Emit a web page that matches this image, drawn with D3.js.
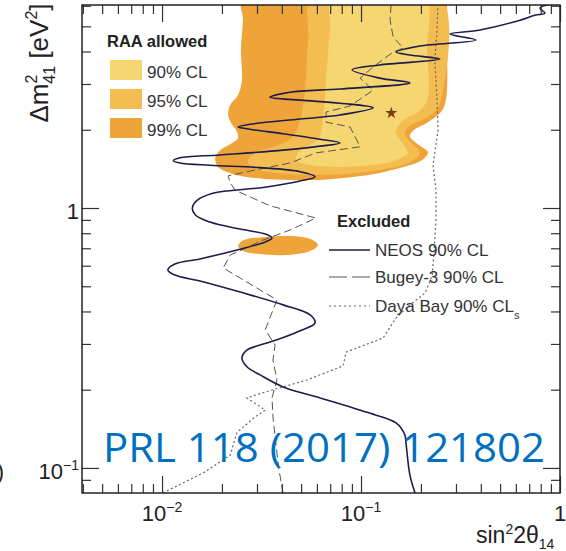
<!DOCTYPE html>
<html>
<head>
<meta charset="utf-8">
<script src="https://cdn.jsdelivr.net/npm/d3@7"></script>
<style>
  body { margin: 0; background: #fff; }
  svg { display: block; font-family: "Liberation Sans", Arial, sans-serif; }
</style>
</head>
<body>
<div id="chart"></div>
<script>
// ---- data: [sin^2 2theta14, dm^2_41 (eV^2)] ----
const raa99Contour = [
  [0.0255, 6.6], [0.255, 6.6], [0.267, 4.84], [0.267, 2.60], [0.252, 2.34], [0.217, 2.14],
  [0.185, 2.00], [0.176, 1.89], [0.193, 1.76], [0.217, 1.64], [0.203, 1.53], [0.170, 1.45],
  [0.132, 1.38], [0.102, 1.33], [0.0698, 1.29], [0.0494, 1.28], [0.0311, 1.30], [0.0227, 1.35],
  [0.0191, 1.44], [0.0185, 1.56], [0.0196, 1.67], [0.0225, 1.78], [0.0241, 1.86], [0.0235, 2.00],
  [0.0225, 2.09], [0.0215, 2.28], [0.0220, 2.49], [0.0241, 2.72], [0.0252, 3.11], [0.0249, 4.05],
  [0.0255, 5.28]
];
const raa95Contour = [
  [0.0575, 6.6], [0.249, 6.6], [0.252, 2.60], [0.238, 2.38], [0.207, 2.20], [0.176, 2.07],
  [0.166, 1.93], [0.182, 1.76], [0.198, 1.63], [0.176, 1.50], [0.124, 1.40], [0.0784, 1.35],
  [0.0440, 1.35], [0.0311, 1.40], [0.0270, 1.50], [0.0293, 1.63], [0.0370, 1.73], [0.0450, 1.86],
  [0.0494, 2.18], [0.0523, 2.84], [0.0542, 4.43]
];
const raa90Contour = [
  [0.0723, 6.6], [0.207, 6.6], [0.215, 4.05], [0.215, 2.60], [0.193, 2.34], [0.161, 2.16],
  [0.150, 1.96], [0.163, 1.76], [0.172, 1.63], [0.148, 1.52], [0.0989, 1.45], [0.0622, 1.45],
  [0.0472, 1.53], [0.0494, 1.67], [0.0608, 1.83], [0.0644, 2.18], [0.0667, 3.11], [0.0698, 4.84]
];
const raa99Island = [
  [0.0241, 0.714], [0.0258, 0.753], [0.0330, 0.773], [0.0440, 0.780], [0.0555, 0.760],
  [0.0608, 0.721], [0.0555, 0.684], [0.0415, 0.659], [0.0311, 0.665], [0.0255, 0.684]
];
const bestFit = [0.142, 2.32];

const neosCurve = [
  [0.187, 0.080], [0.176, 0.094], [0.168, 0.126], [0.166, 0.134], [0.150, 0.149], [0.106, 0.164],
  [0.0622, 0.186], [0.0406, 0.205], [0.0311, 0.228], [0.0267, 0.245], [0.0252, 0.265], [0.0267, 0.284],
  [0.0311, 0.297], [0.0378, 0.311], [0.0494, 0.337], [0.0587, 0.361], [0.0555, 0.388], [0.0406, 0.424],
  [0.0247, 0.475], [0.0155, 0.524], [0.0116, 0.552], [0.0107, 0.578], [0.0116, 0.609], [0.0155, 0.637],
  [0.0238, 0.690], [0.0330, 0.740], [0.0357, 0.767], [0.0330, 0.794], [0.0247, 0.830], [0.0174, 0.883],
  [0.0147, 0.940], [0.0142, 1.00], [0.0150, 1.07], [0.0180, 1.14], [0.0322, 1.20], [0.0494, 1.27],
  [0.0587, 1.32], [0.0494, 1.38], [0.0311, 1.43], [0.0174, 1.46], [0.0123, 1.49], [0.0114, 1.52],
  [0.0123, 1.56], [0.0196, 1.60], [0.0406, 1.67], [0.0622, 1.73], [0.0784, 1.78], [0.0622, 1.84],
  [0.0406, 1.93], [0.0277, 2.01], [0.0241, 2.05], [0.0277, 2.10], [0.0494, 2.20], [0.0784, 2.28],
  [0.115, 2.43], [0.0784, 2.53], [0.0494, 2.60], [0.0349, 2.67], [0.0440, 2.79], [0.0784, 2.87],
  [0.176, 3.03], [0.124, 3.16], [0.0902, 3.40], [0.124, 3.55], [0.249, 3.74], [0.176, 3.88],
  [0.150, 3.98], [0.198, 4.20], [0.378, 4.43], [0.280, 4.67], [0.396, 4.84], [0.630, 5.28],
  [0.748, 5.52], [0.841, 5.62], [0.793, 5.88], [0.955, 6.14]
];
const bugeyCurve = [
  [0.0406, 0.0801], [0.0387, 0.0982], [0.0374, 0.122], [0.0361, 0.157], [0.0357, 0.186], [0.0378, 0.218],
  [0.0361, 0.260], [0.0370, 0.297], [0.0330, 0.340], [0.0378, 0.443], [0.0311, 0.484], [0.0203, 0.588],
  [0.0220, 0.659], [0.0322, 0.753], [0.0440, 0.823], [0.0594, 0.915], [0.0455, 0.966], [0.0349, 1.02],
  [0.0233, 1.17], [0.0220, 1.25], [0.0215, 1.33], [0.0293, 1.40], [0.0440, 1.49], [0.0594, 1.63],
  [0.0989, 1.72], [0.0881, 2.05], [0.0667, 2.14], [0.0667, 2.34], [0.0881, 2.47], [0.115, 2.84],
  [0.0989, 3.16], [0.115, 3.49], [0.145, 3.98], [0.163, 4.12], [0.145, 4.55], [0.140, 5.28], [0.142, 6.31]
];
const dayaBayCurve = [
  [0.0101, 0.0801], [0.0116, 0.0845], [0.0161, 0.0957], [0.0220, 0.112], [0.0238, 0.137], [0.0293, 0.157],
  [0.0330, 0.167], [0.0267, 0.186], [0.0330, 0.196], [0.0535, 0.218], [0.0813, 0.247], [0.0841, 0.279],
  [0.129, 0.316], [0.150, 0.378], [0.176, 0.424], [0.210, 0.471], [0.228, 0.552], [0.233, 0.690],
  [0.238, 0.899], [0.238, 1.17], [0.230, 1.46], [0.244, 2.00], [0.241, 2.60], [0.235, 3.71],
  [0.241, 4.84], [0.244, 6.31]
];

const xMajorTicks = [0.01, 0.1, 1];
const xTickExp = [-2, -1, 0];
const yMajorTicks = [0.1, 1];
const yTickExp = [-1, 0];
const allowedLabels = ["90% CL", "95% CL", "99% CL"];
const allowedColors = ["#F6D671", "#F3BD52", "#EFA43A"];
const excludedLabels = ["NEOS 90% CL", "Bugey-3 90% CL", "Daya Bay 90% CL"];

// ---- layout ----
const W = 566, H = 551;
const margin = { top: 5, right: 6, bottom: 58, left: 82 };
const width = W - margin.left - margin.right;
const height = H - margin.top - margin.bottom;

const svg = d3.select("#chart").append("svg").attr("width", W).attr("height", H);

const x = d3.scaleLog().domain([0.00396, 1]).range([0, width]);
const y = d3.scaleLog().domain([0.0801, 6.04]).range([height, 0]);

const g = svg.append("g").attr("transform", `translate(${margin.left},${margin.top})`);

g.append("clipPath").attr("id", "plotclip")
  .append("rect").attr("width", width).attr("height", height);

const plot = g.append("g").attr("clip-path", "url(#plotclip)");

const area = d3.line().x(d => x(d[0])).y(d => y(d[1])).curve(d3.curveCatmullRomClosed.alpha(0.5));
const smooth = d3.line().x(d => x(d[0])).y(d => y(d[1])).curve(d3.curveCatmullRom.alpha(0.5));
const straight = d3.line().x(d => x(d[0])).y(d => y(d[1]));

// allowed regions
plot.append("path").attr("d", area(raa99Contour)).attr("fill", allowedColors[2]);
plot.append("path").attr("d", area(raa95Contour)).attr("fill", allowedColors[1]);
plot.append("path").attr("d", area(raa90Contour)).attr("fill", allowedColors[0]);
plot.append("path").attr("d", area(raa99Island)).attr("fill", allowedColors[2]);

// exclusion curves
plot.append("path").attr("d", straight(dayaBayCurve))
  .attr("fill", "none").attr("stroke", "#666").attr("stroke-width", 1.2).attr("stroke-dasharray", "2,2.5");
plot.append("path").attr("d", straight(bugeyCurve))
  .attr("fill", "none").attr("stroke", "#555").attr("stroke-width", 1).attr("stroke-dasharray", "8,4");
plot.append("path").attr("d", smooth(neosCurve))
  .attr("fill", "none").attr("stroke", "#1C1C4E").attr("stroke-width", 1.6);

// best fit star
plot.append("path")
  .attr("d", d3.symbol(d3.symbolStar, 45)())
  .attr("transform", `translate(${x(bestFit[0])},${y(bestFit[1])})`)
  .attr("fill", "#7A3F12");

// ---- axes (ticks on all four sides, pointing inward) ----
const isMajor = v => Math.abs(Math.log10(v) - Math.round(Math.log10(v))) < 1e-6;
const xMinor = x.ticks().filter(v => !isMajor(v));
const yMinor = y.ticks().filter(v => !isMajor(v));

function ticks(gen, tr, vals, size) {
  g.append("g").attr("transform", tr)
    .call(gen.tickValues(vals).tickSize(size).tickFormat(""))
    .call(s => s.select(".domain").remove())
    .call(s => s.selectAll("line").attr("stroke", "#333").attr("stroke-width", 1.2));
}
ticks(d3.axisBottom(x), `translate(0,${height})`, xMinor, -9);
ticks(d3.axisBottom(x), `translate(0,${height})`, xMajorTicks, -17);
ticks(d3.axisTop(x), "translate(0,0)", xMinor, -9);
ticks(d3.axisTop(x), "translate(0,0)", xMajorTicks, -17);
ticks(d3.axisLeft(y), "translate(0,0)", yMinor, -9);
ticks(d3.axisLeft(y), "translate(0,0)", yMajorTicks, -17);
ticks(d3.axisRight(y), `translate(${width},0)`, yMinor, -9);
ticks(d3.axisRight(y), `translate(${width},0)`, yMajorTicks, -17);

g.append("rect").attr("width", width).attr("height", height)
  .attr("fill", "none").attr("stroke", "#222").attr("stroke-width", 1.5);

// tick labels
function powLabel(sel, e) {
  if (e === 0) { sel.text("1"); return; }
  sel.append("tspan").text("10");
  sel.append("tspan").attr("dy", -9).attr("font-size", 14).text("\u2212" + Math.abs(e));
}
xMajorTicks.forEach((v, i) => {
  const t = g.append("text").attr("x", x(v)).attr("y", height + 28)
    .attr("text-anchor", "middle").attr("font-size", 22).attr("fill", "#222");
  powLabel(t, xTickExp[i]);
});
yMajorTicks.forEach((v, i) => {
  const t = g.append("text").attr("x", -3).attr("y", y(v) + 11)
    .attr("text-anchor", "end").attr("font-size", 22).attr("fill", "#222");
  powLabel(t, yTickExp[i]);
});

// axis titles
const xt = svg.append("text").attr("x", 476).attr("y", 543).attr("font-size", 23).attr("fill", "#222");
xt.append("tspan").text("sin");
xt.append("tspan").attr("dy", -9).attr("font-size", 14).text("2");
xt.append("tspan").attr("dy", 9).text("2\u03B8");
xt.append("tspan").attr("dy", 6).attr("font-size", 14).text("14");

const yt = svg.append("text").attr("transform", "translate(48,63) rotate(-90)")
  .attr("text-anchor", "middle").attr("font-size", 26).attr("fill", "#222");
yt.append("tspan").text("\u0394m");
yt.append("tspan").attr("dy", -11).attr("font-size", 16).text("2");
yt.append("tspan").attr("dx", -9).attr("dy", 18).attr("font-size", 16).text("41");
yt.append("tspan").attr("dy", -7).text(" [eV");
yt.append("tspan").attr("dy", -11).attr("font-size", 16).text("2");
yt.append("tspan").attr("dy", 11).text("]");

// cut-off glyph at the left edge
svg.append("text").attr("x", 4).attr("y", 479).attr("text-anchor", "end")
  .attr("font-size", 22).attr("fill", "#222").text(")");

// ---- legend: RAA allowed ----
svg.append("text").attr("x", 107).attr("y", 47).attr("font-size", 16.5)
  .attr("font-weight", "bold").attr("fill", "#222").text("RAA allowed");
allowedLabels.forEach((lab, i) => {
  svg.append("rect").attr("x", 110).attr("y", 60 + i * 29).attr("width", 32).attr("height", 20)
    .attr("fill", allowedColors[i]);
  svg.append("text").attr("x", 147).attr("y", 78 + i * 29).attr("font-size", 17)
    .attr("fill", "#333").text(lab);
});

// ---- legend: Excluded ----
svg.append("text").attr("x", 337).attr("y", 227).attr("font-size", 16.5)
  .attr("font-weight", "bold").attr("fill", "#222").text("Excluded");
const legStyles = [
  { stroke: "#1C1C4E", dash: null, w: 1.6 },
  { stroke: "#555", dash: "18,5", w: 1 },
  { stroke: "#666", dash: "2,3", w: 1.2 }
];
const legY = [250, 277, 306];
excludedLabels.forEach((lab, i) => {
  svg.append("line").attr("x1", 329).attr("x2", 370).attr("y1", legY[i]).attr("y2", legY[i])
    .attr("stroke", legStyles[i].stroke).attr("stroke-width", legStyles[i].w)
    .attr("stroke-dasharray", legStyles[i].dash);
  const t = svg.append("text").attr("x", 375).attr("y", legY[i] + 6).attr("font-size", 17)
    .attr("fill", "#333").text(lab);
  if (i === 2) t.append("tspan").attr("dy", 7).attr("font-size", 11).text("s");
});

// ---- reference label ----
svg.append("text").attr("x", 103).attr("y", 462)
  .attr("font-family", "'Open Sans', 'Noto Sans', sans-serif").attr("font-size", 41)
  .attr("fill", "#0070C0").attr("textLength", 442).attr("lengthAdjust", "spacingAndGlyphs")
  .text("PRL 118 (2017) 121802");
</script>
</body>
</html>
